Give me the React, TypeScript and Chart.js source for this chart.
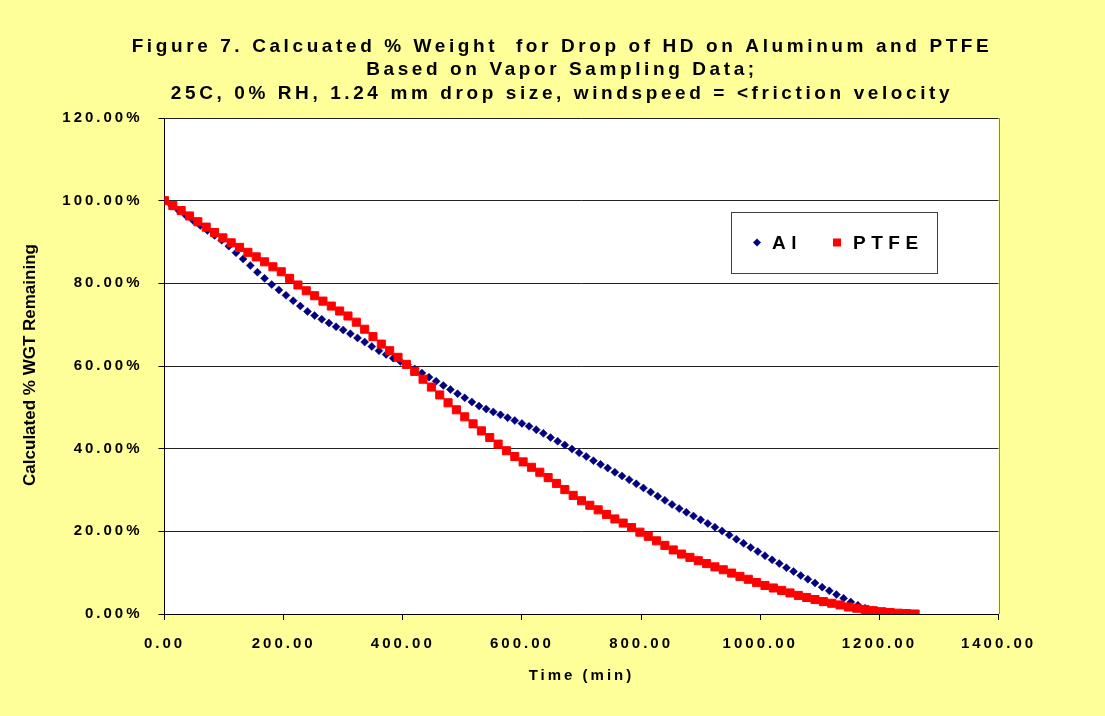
import React, { useEffect, useRef } from 'react';
import { Chart, registerables } from 'chart.js';

Chart.register(...registerables);

const TITLE_LINES = [
  'Figure 7. Calcuated % Weight  for Drop of HD on Aluminum and PTFE',
  'Based on Vapor Sampling Data;',
  '25C, 0% RH, 1.24 mm drop size, windspeed = <friction velocity',
];
const X_TITLE = 'Time (min)';
const Y_TITLE = 'Calculated % WGT Remaining';
const SERIES_NAMES = ['Al', 'PTFE'];

const alTimes = [
  0, 12, 24, 36, 48, 60, 72, 84, 96, 108,
  120, 132, 144, 156, 168, 180, 192, 204, 216, 228,
  240, 252, 264, 276, 288, 300, 312, 324, 336, 348,
  360, 372, 384, 396, 408, 420, 432, 444, 456, 468,
  480, 492, 504, 516, 528, 540, 552, 564, 576, 588,
  600, 612, 624, 636, 648, 660, 672, 684, 696, 708,
  720, 732, 744, 756, 768, 780, 792, 804, 816, 828,
  840, 852, 864, 876, 888, 900, 912, 924, 936, 948,
  960, 972, 984, 996, 1008, 1020, 1032, 1044, 1056, 1068,
  1080, 1092, 1104, 1116, 1128, 1140, 1152, 1164, 1176, 1188,
  1200, 1212, 1224, 1236, 1248, 1260,
];
const alValues = [
  100, 98.8, 97.6, 96.4, 95.2, 94.0, 92.8, 91.6, 90.4, 89.0,
  87.4, 85.9, 84.3, 82.7, 81.2, 79.7, 78.4, 77.1, 75.8, 74.5,
  73.2, 72.2, 71.3, 70.4, 69.5, 68.7, 67.8, 66.8, 65.8, 64.7,
  63.7, 62.8, 61.9, 61.1, 60.3, 59.3, 58.3, 57.3, 56.3, 55.3,
  54.3, 53.3, 52.3, 51.3, 50.3, 49.6, 48.9, 48.2, 47.5, 46.8,
  46.1, 45.4, 44.6, 43.7, 42.7, 41.8, 40.9, 39.9, 39.0, 38.1,
  37.1, 36.2, 35.3, 34.3, 33.4, 32.5, 31.5, 30.5, 29.5, 28.5,
  27.5, 26.5, 25.5, 24.6, 23.7, 22.8, 21.9, 21.0, 20.1, 19.1,
  18.1, 17.1, 16.1, 15.1, 14.1, 13.1, 12.2, 11.2, 10.3, 9.3,
  8.4, 7.5, 6.5, 5.6, 4.7, 3.8, 2.9, 2.1, 1.4, 0.9,
  0.6, 0.35, 0.2, 0.1, 0.05, 0.0,
];

const ptfeTimes = [
  0, 14, 28, 42, 56, 70, 84, 98, 112, 126,
  140, 154, 168, 182, 196, 210, 224, 238, 252, 266,
  280, 294, 308, 322, 336, 350, 364, 378, 392, 406,
  420, 434, 448, 462, 476, 490, 504, 518, 532, 546,
  560, 574, 588, 602, 616, 630, 644, 658, 672, 686,
  700, 714, 728, 742, 756, 770, 784, 798, 812, 826,
  840, 854, 868, 882, 896, 910, 924, 938, 952, 966,
  980, 994, 1008, 1022, 1036, 1050, 1064, 1078, 1092, 1106,
  1120, 1134, 1148, 1162, 1176, 1190, 1204, 1218, 1232, 1246, 1260,
];
const ptfeValues = [
  100, 98.8, 97.6, 96.3, 94.9, 93.6, 92.3, 91.0, 89.8, 88.7,
  87.5, 86.4, 85.2, 84.0, 82.8, 81.2, 79.6, 78.2, 77.0, 75.7,
  74.5, 73.3, 72.1, 70.6, 68.9, 67.1, 65.3, 63.7, 62.1, 60.4,
  58.7, 56.8, 54.9, 53.0, 51.1, 49.4, 47.7, 46.0, 44.3, 42.7,
  41.1, 39.5, 38.1, 36.8, 35.5, 34.3, 33.0, 31.6, 30.1, 28.7,
  27.4, 26.3, 25.2, 24.1, 23.0, 22.0, 20.9, 19.8, 18.8, 17.7,
  16.6, 15.5, 14.5, 13.7, 12.9, 12.2, 11.4, 10.7, 9.9, 9.1,
  8.4, 7.6, 6.9, 6.3, 5.7, 5.1, 4.5, 4.0, 3.5, 3.0,
  2.6, 2.2, 1.7, 1.4, 1.1, 0.8, 0.55, 0.35, 0.2, 0.1, 0.0,
];

const X_MIN = 0;
const X_MAX = 1400;
const X_STEP = 200;
const Y_MIN = 0;
const Y_MAX = 120;
const Y_STEP = 20;

const FONT = '"Liberation Sans", Arial, Helvetica, sans-serif';
const AL_COLOR = '#000080';
const PTFE_COLOR = '#FF0000';

export default function App() {
  const ref = useRef<HTMLCanvasElement | null>(null);

  useEffect(() => {
    const canvas = ref.current;
    if (!canvas) return;

    const decor = {
      id: 'decor',
      beforeDraw(chart: any) {
        const { ctx, chartArea: a } = chart;
        ctx.save();
        ctx.fillStyle = '#FFFF99';
        ctx.fillRect(0, 0, chart.width, chart.height);
        ctx.fillStyle = '#FFFFFF';
        ctx.fillRect(a.left, a.top, a.right - a.left, a.bottom - a.top);
        ctx.restore();
        ctx.letterSpacing = '3px';
      },
      afterDraw(chart: any) {
        const { ctx, chartArea: a } = chart;
        ctx.save();
        ctx.strokeStyle = '#808080';
        ctx.lineWidth = 1;
        ctx.beginPath();
        ctx.moveTo(Math.round(a.right) + 0.5, a.top);
        ctx.lineTo(Math.round(a.right) + 0.5, a.bottom);
        ctx.stroke();

        ctx.fillStyle = '#000';
        ctx.textAlign = 'center';
        ctx.textBaseline = 'middle';
        ctx.font = `bold 19px ${FONT}`;
        ctx.letterSpacing = '3.6px';
        const titleY = [47, 70, 94];
        TITLE_LINES.forEach((l, i) => ctx.fillText(l, 562, titleY[i]));

        ctx.save();
        ctx.letterSpacing = '0px';
        ctx.font = `bold 17px ${FONT}`;
        ctx.translate(30, 365);
        ctx.rotate(-Math.PI / 2);
        ctx.fillText(Y_TITLE, 0, 0);
        ctx.restore();

        const lx = 731, ly = 212, lw = 206, lh = 61;
        ctx.fillStyle = '#FFFFFF';
        ctx.fillRect(lx, ly, lw, lh);
        ctx.strokeStyle = '#404040';
        ctx.strokeRect(lx + 0.5, ly + 0.5, lw, lh);
        const cy = ly + lh / 2;
        ctx.fillStyle = AL_COLOR;
        ctx.beginPath();
        ctx.moveTo(757, cy - 4);
        ctx.lineTo(761, cy);
        ctx.lineTo(757, cy + 4);
        ctx.lineTo(753, cy);
        ctx.closePath();
        ctx.fill();
        ctx.fillStyle = PTFE_COLOR;
        ctx.fillRect(833, cy - 4, 8, 8);
        ctx.fillStyle = '#000';
        ctx.textAlign = 'left';
        ctx.font = `bold 19px ${FONT}`;
        ctx.letterSpacing = '5.5px';
        ctx.fillText(SERIES_NAMES[0], 772, cy + 1);
        ctx.fillText(SERIES_NAMES[1], 853, cy + 1);
        ctx.restore();
        ctx.letterSpacing = '0px';
      },
    };

    const chart = new Chart(canvas, {
      type: 'scatter',
      data: {
        datasets: [
          {
            label: SERIES_NAMES[0],
            data: alTimes.map((t, i) => ({ x: t, y: alValues[i] })),
            pointStyle: 'rectRot',
            pointRadius: 4,
            pointBackgroundColor: AL_COLOR,
            pointBorderColor: AL_COLOR,
            pointBorderWidth: 0.5,
            showLine: false,
            order: 1,
          },
          {
            label: SERIES_NAMES[1],
            data: ptfeTimes.map((t, i) => ({ x: t, y: ptfeValues[i] })),
            pointStyle: 'rect',
            pointRadius: 5.7,
            pointBackgroundColor: PTFE_COLOR,
            pointBorderColor: PTFE_COLOR,
            pointBorderWidth: 1,
            showLine: false,
            order: 0,
          },
        ],
      },
      options: {
        responsive: false,
        animation: false,
        devicePixelRatio: 1,
        layout: { padding: { left: 0, right: 106.5, top: 118, bottom: 0 } },
        plugins: {
          legend: { display: false },
          title: { display: false },
          tooltip: { enabled: false },
        },
        events: [],
        scales: {
          x: {
            type: 'linear',
            min: X_MIN,
            max: X_MAX,
            afterFit: (s: any) => { s.height = 102; },
            border: { display: true, color: '#000', width: 1 },
            grid: { drawOnChartArea: false, drawTicks: true, tickLength: 6, color: '#000' },
            ticks: {
              stepSize: X_STEP,
              autoSkip: false,
              maxRotation: 0,
              padding: 15,
              color: '#000',
              font: { family: FONT, size: 15, weight: 'bold' },
              callback: (v: any) => Number(v).toFixed(2),
            },
            title: {
              display: true,
              text: X_TITLE,
              color: '#000',
              font: { family: FONT, size: 15, weight: 'bold' },
              padding: { top: 0, bottom: 31 },
            },
          },
          y: {
            type: 'linear',
            min: Y_MIN,
            max: Y_MAX,
            afterFit: (s: any) => { s.width = 164.5; },
            border: { display: true, color: '#000', width: 1 },
            grid: { drawOnChartArea: true, drawTicks: true, tickLength: 6, color: '#222', tickColor: '#000' },
            ticks: {
              stepSize: Y_STEP,
              padding: 16,
              color: '#000',
              font: { family: FONT, size: 15, weight: 'bold' },
              callback: (v: any) => Number(v).toFixed(2) + '%',
            },
          },
        },
      },
      plugins: [decor],
    } as any);

    return () => chart.destroy();
  }, []);

  return (
    <div style={{ position: 'fixed', left: 0, top: 0, width: 1105, height: 716 }}>
      <canvas ref={ref} width={1105} height={716} style={{ width: 1105, height: 716, display: 'block' }} />
    </div>
  );
}
